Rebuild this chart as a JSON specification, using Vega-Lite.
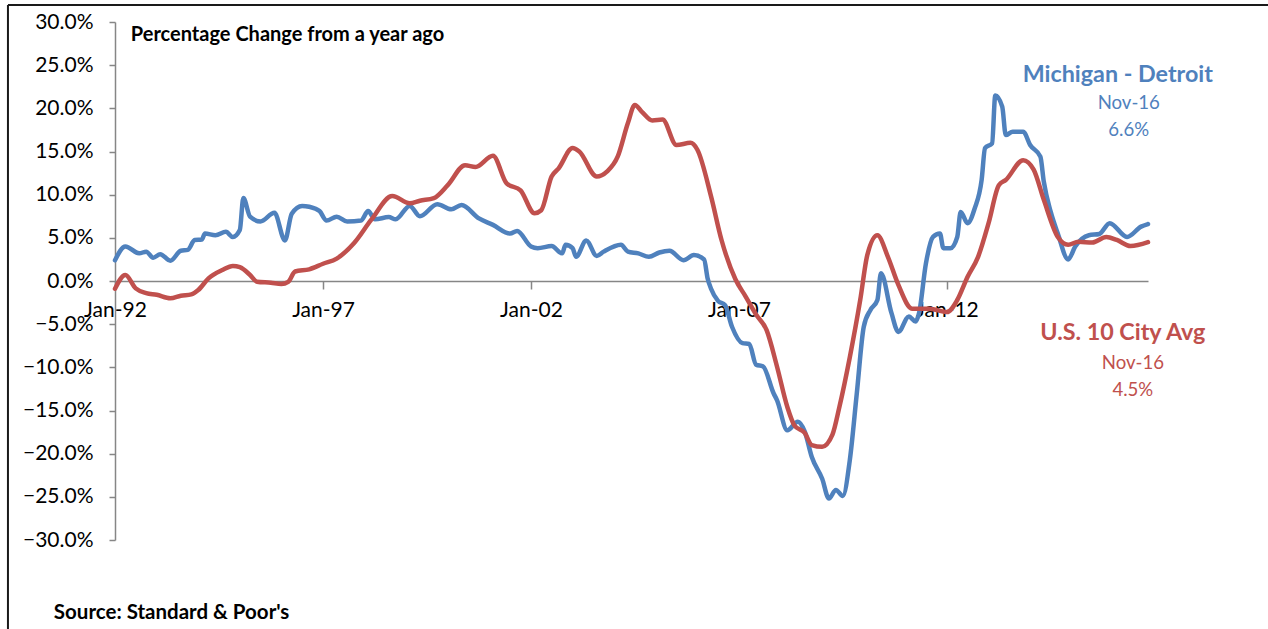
{
  "$schema": "https://vega.github.io/schema/vega-lite/v6.json",
  "width": 1033,
  "height": 518,
  "autosize": {"type": "none"},
  "padding": {"left": 115, "top": 22, "right": 120, "bottom": 89},
  "background": "white",
  "config": {"view": {"stroke": null}, "font": "Lato"},
  "datasets": {
    "hpi": [
    {"date": "1992/01/01", "series": "Michigan - Detroit", "value": 2.4},
    {"date": "1992/04/01", "series": "Michigan - Detroit", "value": 4.0},
    {"date": "1992/08/01", "series": "Michigan - Detroit", "value": 3.2},
    {"date": "1992/10/01", "series": "Michigan - Detroit", "value": 3.4},
    {"date": "1992/12/01", "series": "Michigan - Detroit", "value": 2.7},
    {"date": "1993/02/01", "series": "Michigan - Detroit", "value": 3.1},
    {"date": "1993/05/01", "series": "Michigan - Detroit", "value": 2.35},
    {"date": "1993/08/01", "series": "Michigan - Detroit", "value": 3.5},
    {"date": "1993/10/01", "series": "Michigan - Detroit", "value": 3.6},
    {"date": "1993/12/01", "series": "Michigan - Detroit", "value": 4.75},
    {"date": "1994/02/01", "series": "Michigan - Detroit", "value": 4.8},
    {"date": "1994/03/01", "series": "Michigan - Detroit", "value": 5.5},
    {"date": "1994/06/01", "series": "Michigan - Detroit", "value": 5.3},
    {"date": "1994/09/01", "series": "Michigan - Detroit", "value": 5.7},
    {"date": "1994/11/01", "series": "Michigan - Detroit", "value": 5.1},
    {"date": "1995/01/01", "series": "Michigan - Detroit", "value": 5.9},
    {"date": "1995/02/01", "series": "Michigan - Detroit", "value": 9.6},
    {"date": "1995/04/01", "series": "Michigan - Detroit", "value": 7.45},
    {"date": "1995/07/01", "series": "Michigan - Detroit", "value": 6.9},
    {"date": "1995/11/01", "series": "Michigan - Detroit", "value": 7.9},
    {"date": "1996/02/01", "series": "Michigan - Detroit", "value": 4.7},
    {"date": "1996/04/01", "series": "Michigan - Detroit", "value": 7.8},
    {"date": "1996/07/01", "series": "Michigan - Detroit", "value": 8.7},
    {"date": "1996/09/01", "series": "Michigan - Detroit", "value": 8.6},
    {"date": "1996/12/01", "series": "Michigan - Detroit", "value": 8.1},
    {"date": "1997/02/01", "series": "Michigan - Detroit", "value": 7.0},
    {"date": "1997/05/01", "series": "Michigan - Detroit", "value": 7.45},
    {"date": "1997/08/01", "series": "Michigan - Detroit", "value": 6.9},
    {"date": "1997/12/01", "series": "Michigan - Detroit", "value": 7.0},
    {"date": "1998/02/01", "series": "Michigan - Detroit", "value": 8.1},
    {"date": "1998/04/01", "series": "Michigan - Detroit", "value": 7.15},
    {"date": "1998/08/01", "series": "Michigan - Detroit", "value": 7.4},
    {"date": "1998/10/01", "series": "Michigan - Detroit", "value": 7.15},
    {"date": "1999/02/01", "series": "Michigan - Detroit", "value": 8.7},
    {"date": "1999/05/01", "series": "Michigan - Detroit", "value": 7.5},
    {"date": "1999/10/01", "series": "Michigan - Detroit", "value": 8.9},
    {"date": "2000/02/01", "series": "Michigan - Detroit", "value": 8.3},
    {"date": "2000/05/01", "series": "Michigan - Detroit", "value": 8.8},
    {"date": "2000/10/01", "series": "Michigan - Detroit", "value": 7.25},
    {"date": "2001/02/01", "series": "Michigan - Detroit", "value": 6.5},
    {"date": "2001/07/01", "series": "Michigan - Detroit", "value": 5.5},
    {"date": "2001/09/01", "series": "Michigan - Detroit", "value": 5.8},
    {"date": "2002/01/01", "series": "Michigan - Detroit", "value": 4.0},
    {"date": "2002/03/01", "series": "Michigan - Detroit", "value": 3.8},
    {"date": "2002/07/01", "series": "Michigan - Detroit", "value": 4.05},
    {"date": "2002/10/01", "series": "Michigan - Detroit", "value": 3.2},
    {"date": "2002/11/01", "series": "Michigan - Detroit", "value": 4.2},
    {"date": "2003/01/01", "series": "Michigan - Detroit", "value": 3.8},
    {"date": "2003/02/01", "series": "Michigan - Detroit", "value": 2.8},
    {"date": "2003/05/01", "series": "Michigan - Detroit", "value": 4.7},
    {"date": "2003/08/01", "series": "Michigan - Detroit", "value": 2.9},
    {"date": "2003/10/01", "series": "Michigan - Detroit", "value": 3.4},
    {"date": "2004/03/01", "series": "Michigan - Detroit", "value": 4.2},
    {"date": "2004/05/01", "series": "Michigan - Detroit", "value": 3.4},
    {"date": "2004/08/01", "series": "Michigan - Detroit", "value": 3.2},
    {"date": "2004/11/01", "series": "Michigan - Detroit", "value": 2.8},
    {"date": "2005/02/01", "series": "Michigan - Detroit", "value": 3.3},
    {"date": "2005/05/01", "series": "Michigan - Detroit", "value": 3.5},
    {"date": "2005/09/01", "series": "Michigan - Detroit", "value": 2.4},
    {"date": "2005/12/01", "series": "Michigan - Detroit", "value": 3.0},
    {"date": "2006/03/01", "series": "Michigan - Detroit", "value": 2.5},
    {"date": "2006/04/01", "series": "Michigan - Detroit", "value": 0.3},
    {"date": "2006/05/01", "series": "Michigan - Detroit", "value": -0.9},
    {"date": "2006/07/01", "series": "Michigan - Detroit", "value": -2.3},
    {"date": "2006/09/01", "series": "Michigan - Detroit", "value": -2.8},
    {"date": "2006/11/01", "series": "Michigan - Detroit", "value": -5.3},
    {"date": "2007/02/01", "series": "Michigan - Detroit", "value": -7.2},
    {"date": "2007/04/01", "series": "Michigan - Detroit", "value": -7.3},
    {"date": "2007/06/01", "series": "Michigan - Detroit", "value": -9.7},
    {"date": "2007/08/01", "series": "Michigan - Detroit", "value": -9.9},
    {"date": "2007/11/01", "series": "Michigan - Detroit", "value": -13.0},
    {"date": "2007/12/01", "series": "Michigan - Detroit", "value": -13.8},
    {"date": "2008/03/01", "series": "Michigan - Detroit", "value": -17.3},
    {"date": "2008/06/01", "series": "Michigan - Detroit", "value": -16.3},
    {"date": "2008/08/01", "series": "Michigan - Detroit", "value": -17.45},
    {"date": "2008/10/01", "series": "Michigan - Detroit", "value": -20.35},
    {"date": "2009/01/01", "series": "Michigan - Detroit", "value": -22.9},
    {"date": "2009/03/01", "series": "Michigan - Detroit", "value": -25.2},
    {"date": "2009/05/01", "series": "Michigan - Detroit", "value": -24.2},
    {"date": "2009/07/01", "series": "Michigan - Detroit", "value": -24.9},
    {"date": "2009/09/01", "series": "Michigan - Detroit", "value": -20.7},
    {"date": "2009/11/01", "series": "Michigan - Detroit", "value": -13.0},
    {"date": "2010/01/01", "series": "Michigan - Detroit", "value": -5.3},
    {"date": "2010/03/01", "series": "Michigan - Detroit", "value": -3.35},
    {"date": "2010/05/01", "series": "Michigan - Detroit", "value": -2.2},
    {"date": "2010/06/01", "series": "Michigan - Detroit", "value": 0.9},
    {"date": "2010/09/01", "series": "Michigan - Detroit", "value": -3.7},
    {"date": "2010/11/01", "series": "Michigan - Detroit", "value": -5.9},
    {"date": "2011/02/01", "series": "Michigan - Detroit", "value": -4.1},
    {"date": "2011/04/01", "series": "Michigan - Detroit", "value": -4.7},
    {"date": "2011/05/01", "series": "Michigan - Detroit", "value": -3.75},
    {"date": "2011/07/01", "series": "Michigan - Detroit", "value": 2.05},
    {"date": "2011/09/01", "series": "Michigan - Detroit", "value": 5.1},
    {"date": "2011/11/01", "series": "Michigan - Detroit", "value": 5.5},
    {"date": "2011/12/01", "series": "Michigan - Detroit", "value": 3.8},
    {"date": "2012/02/01", "series": "Michigan - Detroit", "value": 3.8},
    {"date": "2012/04/01", "series": "Michigan - Detroit", "value": 5.1},
    {"date": "2012/05/01", "series": "Michigan - Detroit", "value": 8.0},
    {"date": "2012/07/01", "series": "Michigan - Detroit", "value": 6.7},
    {"date": "2012/09/01", "series": "Michigan - Detroit", "value": 8.4},
    {"date": "2012/11/01", "series": "Michigan - Detroit", "value": 11.7},
    {"date": "2012/12/01", "series": "Michigan - Detroit", "value": 15.4},
    {"date": "2013/02/01", "series": "Michigan - Detroit", "value": 15.95},
    {"date": "2013/03/01", "series": "Michigan - Detroit", "value": 21.5},
    {"date": "2013/05/01", "series": "Michigan - Detroit", "value": 20.2},
    {"date": "2013/06/01", "series": "Michigan - Detroit", "value": 16.9},
    {"date": "2013/08/01", "series": "Michigan - Detroit", "value": 17.3},
    {"date": "2013/11/01", "series": "Michigan - Detroit", "value": 17.3},
    {"date": "2014/01/01", "series": "Michigan - Detroit", "value": 15.75},
    {"date": "2014/04/01", "series": "Michigan - Detroit", "value": 14.4},
    {"date": "2014/05/01", "series": "Michigan - Detroit", "value": 11.5},
    {"date": "2014/07/01", "series": "Michigan - Detroit", "value": 8.0},
    {"date": "2014/09/01", "series": "Michigan - Detroit", "value": 5.5},
    {"date": "2014/12/01", "series": "Michigan - Detroit", "value": 2.5},
    {"date": "2015/02/01", "series": "Michigan - Detroit", "value": 4.0},
    {"date": "2015/06/01", "series": "Michigan - Detroit", "value": 5.3},
    {"date": "2015/09/01", "series": "Michigan - Detroit", "value": 5.45},
    {"date": "2015/12/01", "series": "Michigan - Detroit", "value": 6.7},
    {"date": "2016/05/01", "series": "Michigan - Detroit", "value": 5.1},
    {"date": "2016/09/01", "series": "Michigan - Detroit", "value": 6.3},
    {"date": "2016/11/01", "series": "Michigan - Detroit", "value": 6.6},
    {"date": "1992/01/01", "series": "U.S. 10 City Avg", "value": -0.9},
    {"date": "1992/04/01", "series": "U.S. 10 City Avg", "value": 0.7},
    {"date": "1992/07/01", "series": "U.S. 10 City Avg", "value": -0.85},
    {"date": "1992/10/01", "series": "U.S. 10 City Avg", "value": -1.4},
    {"date": "1993/01/01", "series": "U.S. 10 City Avg", "value": -1.6},
    {"date": "1993/05/01", "series": "U.S. 10 City Avg", "value": -2.0},
    {"date": "1993/08/01", "series": "U.S. 10 City Avg", "value": -1.7},
    {"date": "1993/11/01", "series": "U.S. 10 City Avg", "value": -1.55},
    {"date": "1994/01/01", "series": "U.S. 10 City Avg", "value": -1.05},
    {"date": "1994/04/01", "series": "U.S. 10 City Avg", "value": 0.3},
    {"date": "1994/08/01", "series": "U.S. 10 City Avg", "value": 1.27},
    {"date": "1994/11/01", "series": "U.S. 10 City Avg", "value": 1.74},
    {"date": "1995/01/01", "series": "U.S. 10 City Avg", "value": 1.6},
    {"date": "1995/04/01", "series": "U.S. 10 City Avg", "value": 0.7},
    {"date": "1995/06/01", "series": "U.S. 10 City Avg", "value": -0.08},
    {"date": "1995/10/01", "series": "U.S. 10 City Avg", "value": -0.2},
    {"date": "1996/01/01", "series": "U.S. 10 City Avg", "value": -0.35},
    {"date": "1996/03/01", "series": "U.S. 10 City Avg", "value": -0.1},
    {"date": "1996/05/01", "series": "U.S. 10 City Avg", "value": 1.1},
    {"date": "1996/09/01", "series": "U.S. 10 City Avg", "value": 1.35},
    {"date": "1997/01/01", "series": "U.S. 10 City Avg", "value": 2.0},
    {"date": "1997/05/01", "series": "U.S. 10 City Avg", "value": 2.6},
    {"date": "1997/10/01", "series": "U.S. 10 City Avg", "value": 4.4},
    {"date": "1998/03/01", "series": "U.S. 10 City Avg", "value": 7.1},
    {"date": "1998/09/01", "series": "U.S. 10 City Avg", "value": 9.85},
    {"date": "1999/02/01", "series": "U.S. 10 City Avg", "value": 9.0},
    {"date": "1999/05/01", "series": "U.S. 10 City Avg", "value": 9.3},
    {"date": "1999/09/01", "series": "U.S. 10 City Avg", "value": 9.6},
    {"date": "2000/01/01", "series": "U.S. 10 City Avg", "value": 11.1},
    {"date": "2000/06/01", "series": "U.S. 10 City Avg", "value": 13.4},
    {"date": "2000/09/01", "series": "U.S. 10 City Avg", "value": 13.2},
    {"date": "2001/02/01", "series": "U.S. 10 City Avg", "value": 14.5},
    {"date": "2001/06/01", "series": "U.S. 10 City Avg", "value": 11.3},
    {"date": "2001/10/01", "series": "U.S. 10 City Avg", "value": 10.5},
    {"date": "2002/02/01", "series": "U.S. 10 City Avg", "value": 7.85},
    {"date": "2002/04/01", "series": "U.S. 10 City Avg", "value": 8.2},
    {"date": "2002/07/01", "series": "U.S. 10 City Avg", "value": 12.1},
    {"date": "2002/09/01", "series": "U.S. 10 City Avg", "value": 13.05},
    {"date": "2003/01/01", "series": "U.S. 10 City Avg", "value": 15.4},
    {"date": "2003/03/01", "series": "U.S. 10 City Avg", "value": 15.0},
    {"date": "2003/08/01", "series": "U.S. 10 City Avg", "value": 12.1},
    {"date": "2003/11/01", "series": "U.S. 10 City Avg", "value": 12.7},
    {"date": "2004/02/01", "series": "U.S. 10 City Avg", "value": 14.4},
    {"date": "2004/05/01", "series": "U.S. 10 City Avg", "value": 18.3},
    {"date": "2004/07/01", "series": "U.S. 10 City Avg", "value": 20.4},
    {"date": "2004/09/01", "series": "U.S. 10 City Avg", "value": 19.6},
    {"date": "2004/12/01", "series": "U.S. 10 City Avg", "value": 18.6},
    {"date": "2005/03/01", "series": "U.S. 10 City Avg", "value": 18.7},
    {"date": "2005/07/01", "series": "U.S. 10 City Avg", "value": 15.75},
    {"date": "2005/11/01", "series": "U.S. 10 City Avg", "value": 16.0},
    {"date": "2006/01/01", "series": "U.S. 10 City Avg", "value": 15.2},
    {"date": "2006/05/01", "series": "U.S. 10 City Avg", "value": 9.8},
    {"date": "2006/08/01", "series": "U.S. 10 City Avg", "value": 4.75},
    {"date": "2006/12/01", "series": "U.S. 10 City Avg", "value": 0.2},
    {"date": "2007/03/01", "series": "U.S. 10 City Avg", "value": -1.8},
    {"date": "2007/06/01", "series": "U.S. 10 City Avg", "value": -3.9},
    {"date": "2007/09/01", "series": "U.S. 10 City Avg", "value": -5.7},
    {"date": "2007/12/01", "series": "U.S. 10 City Avg", "value": -9.9},
    {"date": "2008/03/01", "series": "U.S. 10 City Avg", "value": -14.6},
    {"date": "2008/05/01", "series": "U.S. 10 City Avg", "value": -16.7},
    {"date": "2008/08/01", "series": "U.S. 10 City Avg", "value": -17.6},
    {"date": "2008/10/01", "series": "U.S. 10 City Avg", "value": -19.0},
    {"date": "2009/01/01", "series": "U.S. 10 City Avg", "value": -19.2},
    {"date": "2009/04/01", "series": "U.S. 10 City Avg", "value": -17.8},
    {"date": "2009/06/01", "series": "U.S. 10 City Avg", "value": -14.6},
    {"date": "2009/09/01", "series": "U.S. 10 City Avg", "value": -8.8},
    {"date": "2009/12/01", "series": "U.S. 10 City Avg", "value": -2.2},
    {"date": "2010/02/01", "series": "U.S. 10 City Avg", "value": 3.0},
    {"date": "2010/05/01", "series": "U.S. 10 City Avg", "value": 5.3},
    {"date": "2010/08/01", "series": "U.S. 10 City Avg", "value": 2.8},
    {"date": "2010/11/01", "series": "U.S. 10 City Avg", "value": -0.45},
    {"date": "2011/03/01", "series": "U.S. 10 City Avg", "value": -3.2},
    {"date": "2011/08/01", "series": "U.S. 10 City Avg", "value": -3.2},
    {"date": "2012/01/01", "series": "U.S. 10 City Avg", "value": -3.6},
    {"date": "2012/04/01", "series": "U.S. 10 City Avg", "value": -2.2},
    {"date": "2012/07/01", "series": "U.S. 10 City Avg", "value": 0.5},
    {"date": "2012/10/01", "series": "U.S. 10 City Avg", "value": 2.8},
    {"date": "2013/01/01", "series": "U.S. 10 City Avg", "value": 6.7},
    {"date": "2013/04/01", "series": "U.S. 10 City Avg", "value": 11.1},
    {"date": "2013/06/01", "series": "U.S. 10 City Avg", "value": 11.7},
    {"date": "2013/11/01", "series": "U.S. 10 City Avg", "value": 14.0},
    {"date": "2014/02/01", "series": "U.S. 10 City Avg", "value": 12.9},
    {"date": "2014/05/01", "series": "U.S. 10 City Avg", "value": 9.4},
    {"date": "2014/09/01", "series": "U.S. 10 City Avg", "value": 5.1},
    {"date": "2014/12/01", "series": "U.S. 10 City Avg", "value": 4.2},
    {"date": "2015/03/01", "series": "U.S. 10 City Avg", "value": 4.55},
    {"date": "2015/07/01", "series": "U.S. 10 City Avg", "value": 4.45},
    {"date": "2015/11/01", "series": "U.S. 10 City Avg", "value": 5.1},
    {"date": "2016/02/01", "series": "U.S. 10 City Avg", "value": 4.75},
    {"date": "2016/06/01", "series": "U.S. 10 City Avg", "value": 4.05},
    {"date": "2016/11/01", "series": "U.S. 10 City Avg", "value": 4.5}
    ],
    "one": [{"k": 1}]
  },
  "layer": [
    {
      "data": {"name": "hpi"},
      "transform": [{"filter": "datum.series === 'Michigan - Detroit'"}],
      "mark": {"type": "line", "color": "#4F81BD", "strokeWidth": 4.5, "interpolate": "monotone", "strokeCap": "round", "strokeJoin": "round"},
      "encoding": {
        "x": {
          "field": "date", "type": "temporal",
          "scale": {"domain": [{"year": 1992, "month": 1, "date": 1}, {"year": 2016, "month": 11, "date": 1}], "nice": false},
          "axis": {
            "title": null, "offset": -259, "grid": false,
            "values": [{"year": 1992, "month": 1, "date": 1}, {"year": 1997, "month": 1, "date": 1}, {"year": 2002, "month": 1, "date": 1}, {"year": 2007, "month": 1, "date": 1}, {"year": 2012, "month": 1, "date": 1}],
            "format": "%b-%y",
            "domainColor": "#868686", "domainWidth": 1.5,
            "tickColor": "#868686", "tickWidth": 1.5, "tickSize": 8,
            "labelFont": "Lato", "labelFontSize": 21, "labelColor": "#000000",
            "labelPadding": 10, "labelOverlap": false, "labelFlush": false
          }
        },
        "y": {
          "field": "value", "type": "quantitative",
          "scale": {"domain": [-30, 30], "nice": false, "zero": false},
          "axis": {
            "title": null, "grid": false,
            "values": [-30, -25, -20, -15, -10, -5, 0, 5, 10, 15, 20, 25, 30],
            "labelExpr": "format(datum.value, '.1f') + '%'",
            "domainColor": "#868686", "domainWidth": 1.5,
            "tickColor": "#868686", "tickWidth": 1.5, "tickSize": 6,
            "labelFont": "Lato", "labelFontSize": 21, "labelColor": "#000000",
            "labelPadding": 16, "labelOverlap": false
          }
        }
      }
    },
    {
      "data": {"name": "hpi"},
      "transform": [{"filter": "datum.series === 'U.S. 10 City Avg'"}],
      "mark": {"type": "line", "color": "#C0504D", "strokeWidth": 4.5, "interpolate": "monotone", "strokeCap": "round", "strokeJoin": "round"},
      "encoding": {
        "x": {"field": "date", "type": "temporal"},
        "y": {"field": "value", "type": "quantitative"}
      }
    },
    {
      "data": {"name": "one"},
      "mark": {"type": "rule", "color": "#1a1a1a", "strokeWidth": 2},
      "encoding": {
        "x": {"datum": {"year": 1989, "month": 6, "date": 5}, "type": "temporal"},
        "y": {"datum": 31.97, "type": "quantitative"},
        "y2": {"datum": -45}
      }
    },
    {
      "data": {"name": "one"},
      "mark": {"type": "rule", "color": "#1a1a1a", "strokeWidth": 2},
      "encoding": {
        "x": {"datum": {"year": 1989, "month": 6, "date": 5}, "type": "temporal"},
        "x2": {"datum": {"year": 2021, "month": 1, "date": 1}},
        "y": {"datum": 31.97, "type": "quantitative"}
      }
    },
    {
      "data": {"name": "one"},
      "mark": {"type": "text", "text": "Percentage Change from a year ago", "align": "left", "baseline": "middle", "font": "Lato", "fontWeight": "bold", "fontSize": 20, "color": "#000000"},
      "encoding": {
        "x": {"datum": {"year": 1992, "month": 5, "date": 19}, "type": "temporal"},
        "y": {"datum": 28.5, "type": "quantitative"}
      }
    },
    {
      "data": {"name": "one"},
      "mark": {"type": "text", "text": "Michigan - Detroit", "align": "center", "baseline": "middle", "font": "Lato", "fontWeight": "bold", "fontSize": 23.3, "color": "#4F81BD"},
      "encoding": {
        "x": {"datum": {"year": 2016, "month": 2, "date": 10}, "type": "temporal"},
        "y": {"datum": 23.86, "type": "quantitative"}
      }
    },
    {
      "data": {"name": "one"},
      "mark": {"type": "text", "text": "Nov-16", "align": "center", "baseline": "middle", "font": "Lato", "fontSize": 18.6, "color": "#4F81BD"},
      "encoding": {
        "x": {"datum": {"year": 2016, "month": 5, "date": 16}, "type": "temporal"},
        "y": {"datum": 20.62, "type": "quantitative"}
      }
    },
    {
      "data": {"name": "one"},
      "mark": {"type": "text", "text": "6.6%", "align": "center", "baseline": "middle", "font": "Lato", "fontSize": 18.6, "color": "#4F81BD"},
      "encoding": {
        "x": {"datum": {"year": 2016, "month": 5, "date": 16}, "type": "temporal"},
        "y": {"datum": 17.49, "type": "quantitative"}
      }
    },
    {
      "data": {"name": "one"},
      "mark": {"type": "text", "text": "U.S. 10 City Avg", "align": "center", "baseline": "middle", "font": "Lato", "fontWeight": "bold", "fontSize": 23.3, "color": "#C0504D"},
      "encoding": {
        "x": {"datum": {"year": 2016, "month": 3, "date": 25}, "type": "temporal"},
        "y": {"datum": -6.02, "type": "quantitative"}
      }
    },
    {
      "data": {"name": "one"},
      "mark": {"type": "text", "text": "Nov-16", "align": "center", "baseline": "middle", "font": "Lato", "fontSize": 18.6, "color": "#C0504D"},
      "encoding": {
        "x": {"datum": {"year": 2016, "month": 6, "date": 21}, "type": "temporal"},
        "y": {"datum": -9.5, "type": "quantitative"}
      }
    },
    {
      "data": {"name": "one"},
      "mark": {"type": "text", "text": "4.5%", "align": "center", "baseline": "middle", "font": "Lato", "fontSize": 18.6, "color": "#C0504D"},
      "encoding": {
        "x": {"datum": {"year": 2016, "month": 6, "date": 21}, "type": "temporal"},
        "y": {"datum": -12.63, "type": "quantitative"}
      }
    },
    {
      "data": {"name": "one"},
      "mark": {"type": "text", "text": "Source: Standard & Poor's", "align": "left", "baseline": "middle", "font": "Lato", "fontWeight": "bold", "fontSize": 20.5, "color": "#000000"},
      "encoding": {
        "x": {"datum": {"year": 1990, "month": 7, "date": 13}, "type": "temporal"},
        "y": {"datum": -38.46, "type": "quantitative"}
      }
    }
  ]
}
